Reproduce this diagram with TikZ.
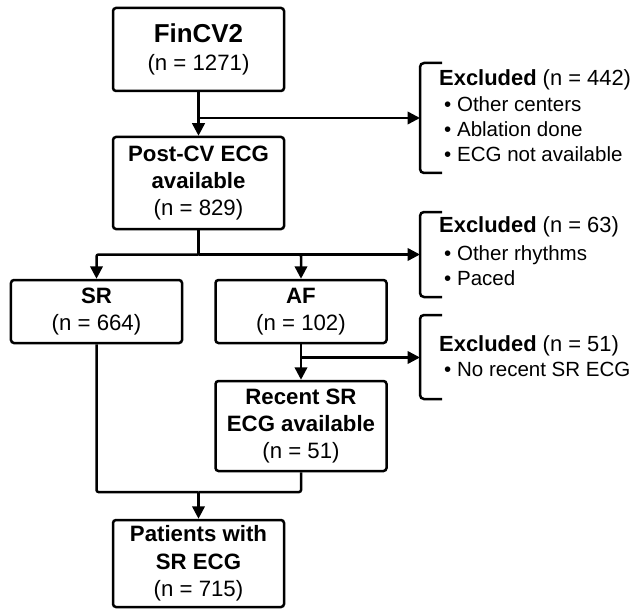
\documentclass[tikz,border=0pt]{standalone}
\usepackage{fontspec}
\setmainfont{Liberation Sans}
\usetikzlibrary{arrows.meta}
\begin{document}
\begin{tikzpicture}[x=1bp,y=-1bp,
  box/.style={draw, line width=2.5bp, rounded corners=3bp, align=center, minimum width=171bp, inner sep=0pt, font=\fontsize{22.3}{27.5}\selectfont},
  conn/.style={line width=2.5bp, rounded corners=2bp},
  arr/.style={conn, -{Triangle[length=12.5bp,width=12.5bp]}},
  brk/.style={line width=2.5bp, rounded corners=4bp},
  ex/.style={anchor=base west, inner sep=0pt, font=\fontsize{22}{26}\selectfont},
  bul/.style={anchor=base west, inner sep=0pt, font=\fontsize{20.6}{25}\selectfont}]
\useasboundingbox (0,0) rectangle (639,609);

% main boxes
\node[box, minimum height=83bp] (fin) at (198.5,49.5) {{\fontsize{26}{29}\selectfont\bfseries FinCV2}\\(n = 1271)};
\node[box, minimum height=92bp] (post) at (198.5,183) {\textbf{Post-CV ECG}\\\textbf{available}\\(n = 829)};
\node[box, minimum height=63bp] (sr) at (96.5,311.5) {\textbf{SR}\\(n = 664)};
\node[box, minimum height=63bp] (af) at (301,311.5) {\textbf{AF}\\(n = 102)};
\node[box, minimum height=90bp] (rec) at (301,426) {\textbf{Recent SR}\\\textbf{ECG available}\\(n = 51)};
\node[box, minimum height=87bp] (pat) at (198.5,563.5) {\textbf{Patients with}\\\textbf{SR ECG}\\(n = 715)};

% brackets
\coordinate (b1) at (420,118);
\coordinate (b2) at (420,254.5);
\coordinate (b3) at (420,357.5);
\draw[brk] (442,63) -- (420,63) -- (420,173) -- (442,173);
\draw[brk] (442,212) -- (420,212) -- (420,297) -- (442,297);
\draw[brk] (442,315) -- (420,315) -- (420,399) -- (442,399);

% exclusion texts
\node[ex] (x1a) at (439,86) {\textbf{Excluded} (n = 442)};
\node[bul] (x1b) at (444,112) {\textbullet\ Other centers};
\node[bul] (x1c) at (444,137) {\textbullet\ Ablation done};
\node[bul] (x1d) at (444,162) {\textbullet\ ECG not available};
\node[ex] (x2a) at (439,232) {\textbf{Excluded} (n = 63)};
\node[bul] (x2b) at (444,260) {\textbullet\ Other rhythms};
\node[bul] (x2c) at (444,285) {\textbullet\ Paced};
\node[ex] (x3a) at (439,351) {\textbf{Excluded} (n = 51)};
\node[bul] (x3b) at (444,376) {\textbullet\ No recent SR ECG};

% connectors
\draw[arr] (fin.south) -- (post.north);
\draw[arr] (fin.south |- b1) -- (b1);

\coordinate (j1) at (198.5,254.5);
\draw[conn] (post.south) -- (j1);
\draw[arr] (j1) -| (sr.north);
\draw[arr] (j1) -| (af.north);
\draw[arr] (j1) -- (b2);

\draw[arr] (af.south) -- (rec.north);
\draw[arr] (af.south |- b3) -- (b3);

\coordinate (m) at (198.5,492);
\draw[conn] (sr.south) |- (m);
\draw[conn] (rec.south) |- (m);
\draw[arr] (m) -- (pat.north);
\end{tikzpicture}
\end{document}
